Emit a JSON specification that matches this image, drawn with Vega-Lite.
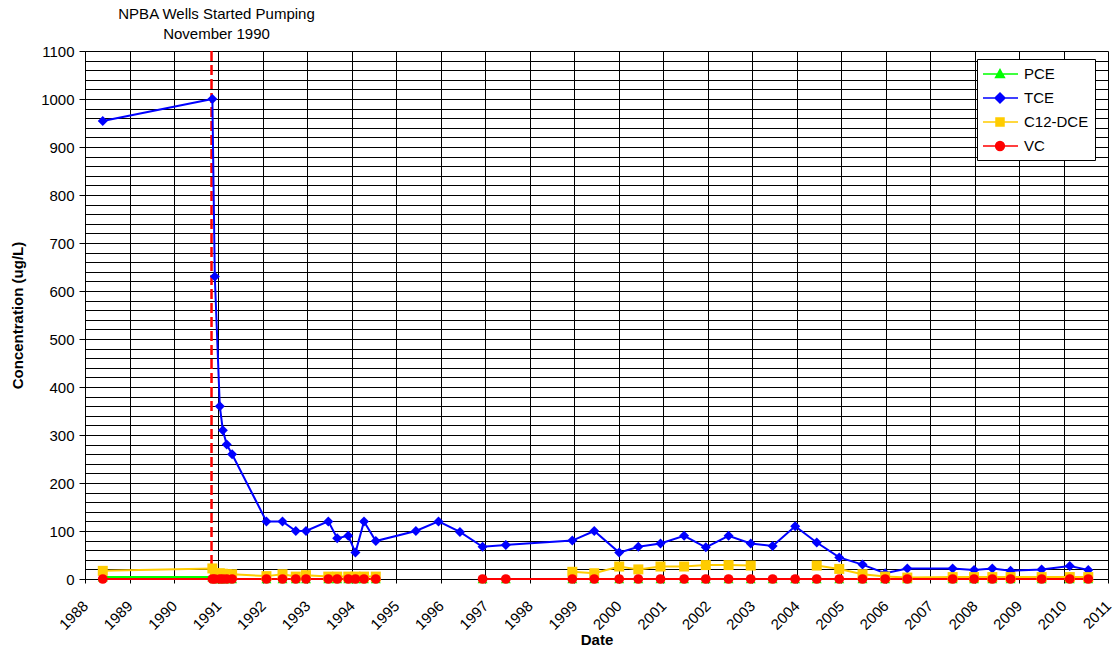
{
  "$schema": "https://vega.github.io/schema/vega-lite/v6.json",
  "width": 1023,
  "height": 528,
  "autosize": "none",
  "padding": {"left": 85, "top": 51, "right": 6, "bottom": 73},
  "background": "white",
  "config": {
    "view": {"stroke": null},
    "font": "Liberation Sans",
    "axis": {
      "domainColor": "#000",
      "tickColor": "#000",
      "gridColor": "#000",
      "gridOpacity": 1,
      "gridWidth": 1,
      "labelColor": "#000",
      "titleColor": "#000",
      "labelFont": "Liberation Sans",
      "titleFont": "Liberation Sans",
      "labelFontSize": 15,
      "titleFontSize": 15,
      "titleFontWeight": "bold",
      "labelFlush": false,
      "labelOverlap": false,
      "grid": true
    },
    "axisX": {
      "tickSize": 4,
      "labelAngle": -45,
      "labelAlign": "right",
      "labelBaseline": "middle",
      "labelPadding": 20,
      "titlePadding": 0
    },
    "axisY": {
      "tickSize": 6,
      "labelPadding": 5,
      "titlePadding": 15
    },
    "legend": {
      "orient": "none",
      "legendX": 892,
      "legendY": 8,
      "padding": 6,
      "strokeColor": "#000",
      "fillColor": "#FFFFFF",
      "labelFontSize": 15,
      "labelColor": "#000",
      "labelFont": "Liberation Sans",
      "labelOffset": 23,
      "rowPadding": 7,
      "symbolSize": 256,
      "symbolStrokeWidth": 1.5
    }
  },
  "datasets": {
    "event": [
      {"date": "1990-11-05", "label": "NPBA Wells Started Pumping\nNovember 1990"}
    ],
    "conc": [
      {"date": "1988-05-26", "compound": "PCE", "value": 4},
      {"date": "1990-11-12", "compound": "PCE", "value": 4},
      {"date": "1990-12-02", "compound": "PCE", "value": 0},
      {"date": "1991-01-12", "compound": "PCE", "value": 0},
      {"date": "1991-02-06", "compound": "PCE", "value": 0},
      {"date": "1991-03-10", "compound": "PCE", "value": 0},
      {"date": "1991-04-23", "compound": "PCE", "value": 0},
      {"date": "1992-01-30", "compound": "PCE", "value": 0},
      {"date": "1992-06-10", "compound": "PCE", "value": 0},
      {"date": "1992-09-27", "compound": "PCE", "value": 0},
      {"date": "1992-12-20", "compound": "PCE", "value": 0},
      {"date": "1993-06-21", "compound": "PCE", "value": 0},
      {"date": "1993-09-02", "compound": "PCE", "value": 0},
      {"date": "1993-12-02", "compound": "PCE", "value": 0},
      {"date": "1994-01-30", "compound": "PCE", "value": 0},
      {"date": "1994-04-10", "compound": "PCE", "value": 0},
      {"date": "1994-07-16", "compound": "PCE", "value": 0},
      {"date": "1995-06-10", "compound": "PCE", "value": null},
      {"date": "1995-12-13", "compound": "PCE", "value": null},
      {"date": "1996-06-06", "compound": "PCE", "value": null},
      {"date": "1996-12-09", "compound": "PCE", "value": 0},
      {"date": "1997-06-18", "compound": "PCE", "value": 0},
      {"date": "1998-12-16", "compound": "PCE", "value": 0},
      {"date": "1999-06-14", "compound": "PCE", "value": 0},
      {"date": "2000-01-05", "compound": "PCE", "value": 0},
      {"date": "2000-06-10", "compound": "PCE", "value": 0},
      {"date": "2000-12-09", "compound": "PCE", "value": 0},
      {"date": "2001-06-21", "compound": "PCE", "value": 0},
      {"date": "2001-12-16", "compound": "PCE", "value": 0},
      {"date": "2002-06-21", "compound": "PCE", "value": 0},
      {"date": "2002-12-20", "compound": "PCE", "value": 0},
      {"date": "2003-06-18", "compound": "PCE", "value": 0},
      {"date": "2003-12-20", "compound": "PCE", "value": 0},
      {"date": "2004-06-14", "compound": "PCE", "value": 0},
      {"date": "2004-12-16", "compound": "PCE", "value": 0},
      {"date": "2005-06-25", "compound": "PCE", "value": 0},
      {"date": "2005-12-28", "compound": "PCE", "value": 0},
      {"date": "2006-06-28", "compound": "PCE", "value": 0},
      {"date": "2007-07-05", "compound": "PCE", "value": 0},
      {"date": "2007-12-28", "compound": "PCE", "value": 0},
      {"date": "2008-05-26", "compound": "PCE", "value": 0},
      {"date": "2008-10-23", "compound": "PCE", "value": 0},
      {"date": "2009-07-05", "compound": "PCE", "value": 0},
      {"date": "2010-02-21", "compound": "PCE", "value": 0},
      {"date": "2010-07-23", "compound": "PCE", "value": 0},

      {"date": "1988-05-26", "compound": "TCE", "value": 954},
      {"date": "1990-11-12", "compound": "TCE", "value": 1000},
      {"date": "1990-12-02", "compound": "TCE", "value": 630},
      {"date": "1991-01-12", "compound": "TCE", "value": 360},
      {"date": "1991-02-06", "compound": "TCE", "value": 310},
      {"date": "1991-03-10", "compound": "TCE", "value": 280},
      {"date": "1991-04-23", "compound": "TCE", "value": 260},
      {"date": "1992-01-30", "compound": "TCE", "value": 120},
      {"date": "1992-06-10", "compound": "TCE", "value": 120},
      {"date": "1992-09-27", "compound": "TCE", "value": 100},
      {"date": "1992-12-20", "compound": "TCE", "value": 100},
      {"date": "1993-06-21", "compound": "TCE", "value": 120},
      {"date": "1993-09-02", "compound": "TCE", "value": 85},
      {"date": "1993-12-02", "compound": "TCE", "value": 90},
      {"date": "1994-01-30", "compound": "TCE", "value": 55},
      {"date": "1994-04-10", "compound": "TCE", "value": 120},
      {"date": "1994-07-16", "compound": "TCE", "value": 79},
      {"date": "1995-06-10", "compound": "TCE", "value": 100},
      {"date": "1995-12-13", "compound": "TCE", "value": 120},
      {"date": "1996-06-06", "compound": "TCE", "value": 98},
      {"date": "1996-12-09", "compound": "TCE", "value": 67},
      {"date": "1997-06-18", "compound": "TCE", "value": 71},
      {"date": "1998-12-16", "compound": "TCE", "value": 80},
      {"date": "1999-06-14", "compound": "TCE", "value": 100},
      {"date": "2000-01-05", "compound": "TCE", "value": 55},
      {"date": "2000-06-10", "compound": "TCE", "value": 67},
      {"date": "2000-12-09", "compound": "TCE", "value": 74},
      {"date": "2001-06-21", "compound": "TCE", "value": 90},
      {"date": "2001-12-16", "compound": "TCE", "value": 66},
      {"date": "2002-06-21", "compound": "TCE", "value": 90},
      {"date": "2002-12-20", "compound": "TCE", "value": 74},
      {"date": "2003-06-18", "compound": "TCE", "value": 69},
      {"date": "2003-12-20", "compound": "TCE", "value": 110},
      {"date": "2004-06-14", "compound": "TCE", "value": 76},
      {"date": "2004-12-16", "compound": "TCE", "value": 45},
      {"date": "2005-06-25", "compound": "TCE", "value": 30},
      {"date": "2005-12-28", "compound": "TCE", "value": 12},
      {"date": "2006-06-28", "compound": "TCE", "value": 22},
      {"date": "2007-07-05", "compound": "TCE", "value": 22},
      {"date": "2007-12-28", "compound": "TCE", "value": 19},
      {"date": "2008-05-26", "compound": "TCE", "value": 22},
      {"date": "2008-10-23", "compound": "TCE", "value": 17},
      {"date": "2009-07-05", "compound": "TCE", "value": 20},
      {"date": "2010-02-21", "compound": "TCE", "value": 27},
      {"date": "2010-07-23", "compound": "TCE", "value": 19},

      {"date": "1988-05-26", "compound": "C12-DCE", "value": 17},
      {"date": "1990-11-12", "compound": "C12-DCE", "value": 22},
      {"date": "1990-12-02", "compound": "C12-DCE", "value": 12},
      {"date": "1991-01-12", "compound": "C12-DCE", "value": 12},
      {"date": "1991-02-06", "compound": "C12-DCE", "value": 11},
      {"date": "1991-03-10", "compound": "C12-DCE", "value": 10},
      {"date": "1991-04-23", "compound": "C12-DCE", "value": 10},
      {"date": "1992-01-30", "compound": "C12-DCE", "value": 6},
      {"date": "1992-06-10", "compound": "C12-DCE", "value": 10},
      {"date": "1992-09-27", "compound": "C12-DCE", "value": 5},
      {"date": "1992-12-20", "compound": "C12-DCE", "value": 8},
      {"date": "1993-06-21", "compound": "C12-DCE", "value": 5},
      {"date": "1993-09-02", "compound": "C12-DCE", "value": 5},
      {"date": "1993-12-02", "compound": "C12-DCE", "value": 5},
      {"date": "1994-01-30", "compound": "C12-DCE", "value": 5},
      {"date": "1994-04-10", "compound": "C12-DCE", "value": 5},
      {"date": "1994-07-16", "compound": "C12-DCE", "value": 5},
      {"date": "1995-06-10", "compound": "C12-DCE", "value": null},
      {"date": "1995-12-13", "compound": "C12-DCE", "value": null},
      {"date": "1996-06-06", "compound": "C12-DCE", "value": null},
      {"date": "1996-12-09", "compound": "C12-DCE", "value": null},
      {"date": "1997-06-18", "compound": "C12-DCE", "value": null},
      {"date": "1998-12-16", "compound": "C12-DCE", "value": 15},
      {"date": "1999-06-14", "compound": "C12-DCE", "value": 12},
      {"date": "2000-01-05", "compound": "C12-DCE", "value": 26},
      {"date": "2000-06-10", "compound": "C12-DCE", "value": 20},
      {"date": "2000-12-09", "compound": "C12-DCE", "value": 26},
      {"date": "2001-06-21", "compound": "C12-DCE", "value": 26},
      {"date": "2001-12-16", "compound": "C12-DCE", "value": 29},
      {"date": "2002-06-21", "compound": "C12-DCE", "value": 29},
      {"date": "2002-12-20", "compound": "C12-DCE", "value": 28},
      {"date": "2003-06-18", "compound": "C12-DCE", "value": null},
      {"date": "2003-12-20", "compound": "C12-DCE", "value": null},
      {"date": "2004-06-14", "compound": "C12-DCE", "value": 28},
      {"date": "2004-12-16", "compound": "C12-DCE", "value": 21},
      {"date": "2005-06-25", "compound": "C12-DCE", "value": 10},
      {"date": "2005-12-28", "compound": "C12-DCE", "value": 5},
      {"date": "2006-06-28", "compound": "C12-DCE", "value": 3},
      {"date": "2007-07-05", "compound": "C12-DCE", "value": 4},
      {"date": "2007-12-28", "compound": "C12-DCE", "value": 4},
      {"date": "2008-05-26", "compound": "C12-DCE", "value": 4},
      {"date": "2008-10-23", "compound": "C12-DCE", "value": 4},
      {"date": "2009-07-05", "compound": "C12-DCE", "value": 4},
      {"date": "2010-02-21", "compound": "C12-DCE", "value": 4},
      {"date": "2010-07-23", "compound": "C12-DCE", "value": 4},

      {"date": "1988-05-26", "compound": "VC", "value": 0},
      {"date": "1990-11-12", "compound": "VC", "value": 0},
      {"date": "1990-12-02", "compound": "VC", "value": 0},
      {"date": "1991-01-12", "compound": "VC", "value": 0},
      {"date": "1991-02-06", "compound": "VC", "value": 0},
      {"date": "1991-03-10", "compound": "VC", "value": 0},
      {"date": "1991-04-23", "compound": "VC", "value": 0},
      {"date": "1992-01-30", "compound": "VC", "value": 0},
      {"date": "1992-06-10", "compound": "VC", "value": 0},
      {"date": "1992-09-27", "compound": "VC", "value": 0},
      {"date": "1992-12-20", "compound": "VC", "value": 0},
      {"date": "1993-06-21", "compound": "VC", "value": 0},
      {"date": "1993-09-02", "compound": "VC", "value": 0},
      {"date": "1993-12-02", "compound": "VC", "value": 0},
      {"date": "1994-01-30", "compound": "VC", "value": 0},
      {"date": "1994-04-10", "compound": "VC", "value": 0},
      {"date": "1994-07-16", "compound": "VC", "value": 0},
      {"date": "1995-06-10", "compound": "VC", "value": null},
      {"date": "1995-12-13", "compound": "VC", "value": null},
      {"date": "1996-06-06", "compound": "VC", "value": null},
      {"date": "1996-12-09", "compound": "VC", "value": 0},
      {"date": "1997-06-18", "compound": "VC", "value": 0},
      {"date": "1998-12-16", "compound": "VC", "value": 0},
      {"date": "1999-06-14", "compound": "VC", "value": 0},
      {"date": "2000-01-05", "compound": "VC", "value": 0},
      {"date": "2000-06-10", "compound": "VC", "value": 0},
      {"date": "2000-12-09", "compound": "VC", "value": 0},
      {"date": "2001-06-21", "compound": "VC", "value": 0},
      {"date": "2001-12-16", "compound": "VC", "value": 0},
      {"date": "2002-06-21", "compound": "VC", "value": 0},
      {"date": "2002-12-20", "compound": "VC", "value": 0},
      {"date": "2003-06-18", "compound": "VC", "value": 0},
      {"date": "2003-12-20", "compound": "VC", "value": 0},
      {"date": "2004-06-14", "compound": "VC", "value": 0},
      {"date": "2004-12-16", "compound": "VC", "value": 0},
      {"date": "2005-06-25", "compound": "VC", "value": 0},
      {"date": "2005-12-28", "compound": "VC", "value": 0},
      {"date": "2006-06-28", "compound": "VC", "value": 0},
      {"date": "2007-07-05", "compound": "VC", "value": 0},
      {"date": "2007-12-28", "compound": "VC", "value": 0},
      {"date": "2008-05-26", "compound": "VC", "value": 0},
      {"date": "2008-10-23", "compound": "VC", "value": 0},
      {"date": "2009-07-05", "compound": "VC", "value": 0},
      {"date": "2010-02-21", "compound": "VC", "value": 0},
      {"date": "2010-07-23", "compound": "VC", "value": 0}
    ]
  },
  "encoding": {
    "x": {
      "field": "date",
      "type": "temporal",
      "scale": {
        "type": "utc",
        "domain": [
          {"year": 1988, "month": 1, "date": 1, "utc": true},
          {"year": 2011, "month": 1, "date": 1, "utc": true}
        ]
      },
      "axis": {
        "title": "Date",
        "format": "%Y",
        "tickCount": {"interval": "year", "step": 1}
      }
    }
  },
  "layer": [
    {
      "data": {"name": "event"},
      "mark": {"type": "rule", "color": "#FF0000", "strokeWidth": 2.5, "strokeDash": [10, 4]},
      "encoding": {}
    },
    {
      "data": {"name": "conc"},
      "encoding": {
        "y": {
          "field": "value",
          "type": "quantitative",
          "scale": {"domain": [0, 1100], "nice": false},
          "axis": {
            "title": "Concentration (ug/L)",
            "format": "d",
            "values": [0,20,40,60,80,100,120,140,160,180,200,220,240,260,280,300,320,340,360,380,400,420,440,460,480,500,520,540,560,580,600,620,640,660,680,700,720,740,760,780,800,820,840,860,880,900,920,940,960,980,1000,1020,1040,1060,1080,1100],
            "labelExpr": "datum.value % 100 === 0 ? datum.label : ''",
            "tickOpacity": {"condition": {"test": "datum.value % 100 === 0", "value": 1}, "value": 0}
          }
        },
        "color": {
          "field": "compound",
          "type": "nominal",
          "scale": {"domain": ["PCE", "TCE", "C12-DCE", "VC"], "range": ["#00FF00", "#0000FF", "#FFCC00", "#FF0000"]},
          "legend": {
            "title": null,
            "encode": {
              "symbols": {
                "update": {
                  "shape": {"signal": "datum.value === 'PCE' ? 'M-1.125,0H3.25M1,-0.55L1.55,0.45L0.45,0.45Z' : datum.value === 'TCE' ? 'M-1.125,0H3.25M1,-0.62L1.62,0L1,0.62L0.38,0Z' : datum.value === 'C12-DCE' ? 'M-1.125,0H3.25M0.5,-0.5H1.5V0.5H0.5Z' : 'M-1.125,0H3.25M0.45,0A0.55,0.55,0,1,1,1.55,0A0.55,0.55,0,1,1,0.45,0Z'"},
                  "stroke": {"scale": "color", "field": "value"},
                  "fill": {"scale": "color", "field": "value"},
                  "strokeWidth": {"value": 1.5},
                  "size": {"value": 256},
                  "opacity": {"value": 1}
                }
              }
            }
          }
        }
      },
      "layer": [
        {
          "mark": {"type": "line", "strokeWidth": 2, "invalid": "break-paths-filter-domains"}
        },
        {
          "transform": [{"filter": "datum.compound === 'PCE'"}],
          "mark": {"type": "point", "shape": "triangle-up", "filled": true, "opacity": 1, "size": 100, "strokeWidth": 0}
        },
        {
          "transform": [{"filter": "datum.compound === 'TCE'"}],
          "mark": {"type": "point", "shape": "diamond", "filled": true, "opacity": 1, "size": 100, "strokeWidth": 0}
        },
        {
          "transform": [{"filter": "datum.compound === 'C12-DCE'"}],
          "mark": {"type": "point", "shape": "square", "filled": true, "opacity": 1, "size": 100, "strokeWidth": 0}
        },
        {
          "transform": [{"filter": "datum.compound === 'VC'"}],
          "mark": {"type": "point", "shape": "circle", "filled": true, "opacity": 1, "size": 95, "strokeWidth": 0}
        }
      ]
    },
    {
      "data": {"name": "event"},
      "mark": {"type": "text", "lineBreak": "\n", "fontSize": 15, "align": "center", "baseline": "alphabetic", "dx": 5, "dy": -32, "lineHeight": 20, "color": "#000", "font": "Liberation Sans"},
      "encoding": {
        "y": {
          "datum": 1100,
          "type": "quantitative",
          "scale": {"domain": [0, 1100], "nice": false},
          "axis": {
            "title": "Concentration (ug/L)",
            "format": "d",
            "values": [0,20,40,60,80,100,120,140,160,180,200,220,240,260,280,300,320,340,360,380,400,420,440,460,480,500,520,540,560,580,600,620,640,660,680,700,720,740,760,780,800,820,840,860,880,900,920,940,960,980,1000,1020,1040,1060,1080,1100],
            "labelExpr": "datum.value % 100 === 0 ? datum.label : ''",
            "tickOpacity": {"condition": {"test": "datum.value % 100 === 0", "value": 1}, "value": 0}
          }
        },
        "text": {"field": "label"}
      }
    }
  ]
}
